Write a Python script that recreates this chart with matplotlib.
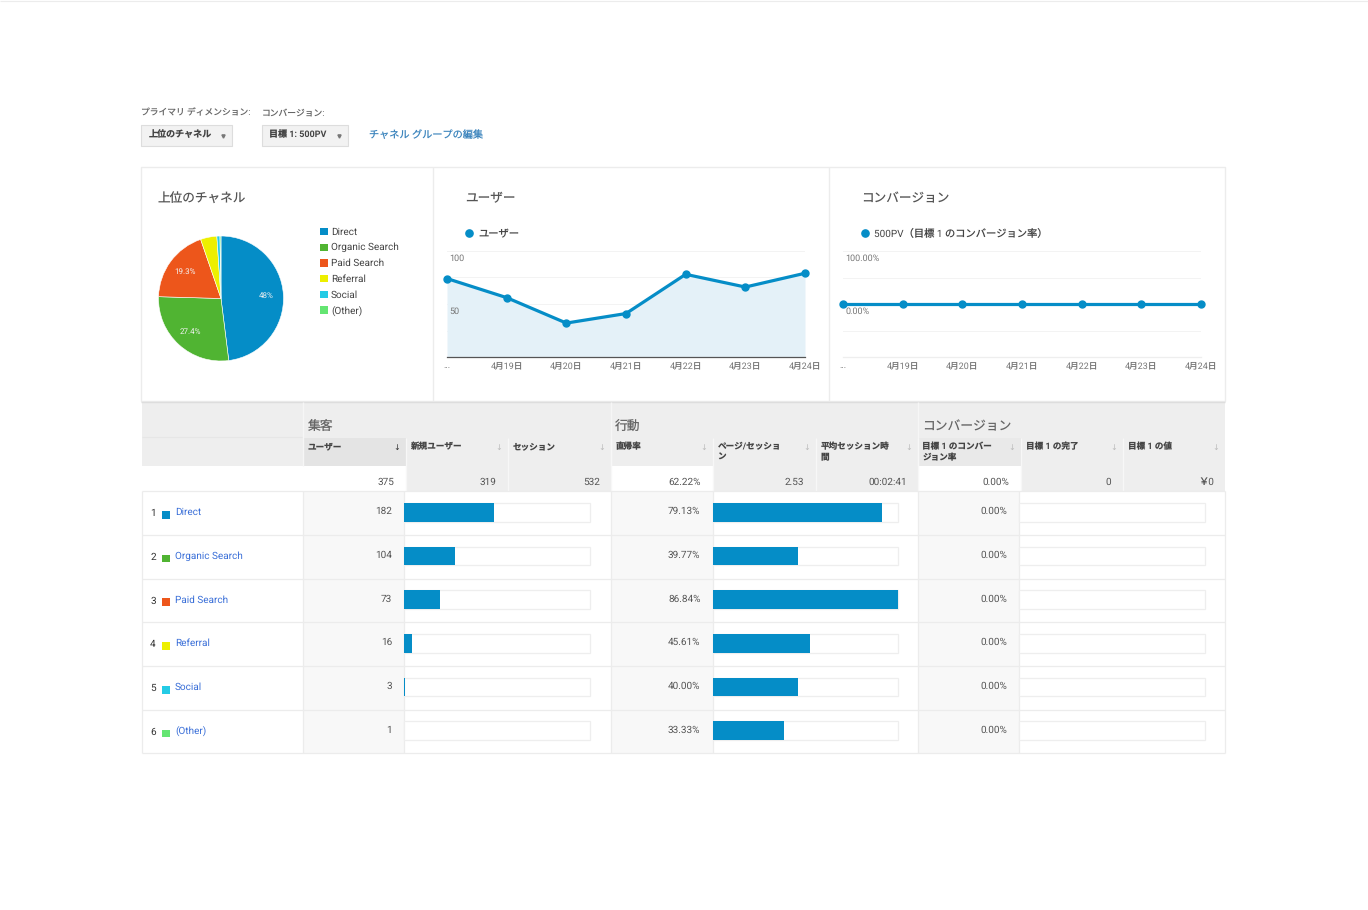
import matplotlib
matplotlib.use("Agg")
import matplotlib.pyplot as plt
from matplotlib.patches import Rectangle

plt.rcParams["font.family"] = ["Roboto", "Noto Sans CJK JP", "DejaVu Sans"]
plt.rcParams["text.hinting"] = "no_hinting"
plt.rcParams["text.hinting_factor"] = 1

W, H = 1368, 910

# data
channels = ["Direct", "Organic Search", "Paid Search", "Referral", "Social", "(Other)"]
channel_colors = ["#058dc7", "#50b432", "#ed561b", "#edef00", "#24cbe5", "#64e572"]
users = [182, 104, 73, 16, 3, 1]
users_total = 375
bounce = [79.13, 39.77, 86.84, 45.61, 40.00, 33.33]
conv_rate = [0.0, 0.0, 0.0, 0.0, 0.0, 0.0]
dates = ["...", "4月19日", "4月20日", "4月21日", "4月22日", "4月23日", "4月24日"]
daily_users = [74, 56, 32, 41, 78, 66, 79]
daily_conv = [0, 0, 0, 0, 0, 0, 0]
columns_a = ["ユーザー", "新規ユーザー", "セッション"]
columns_b = ["直帰率", "ページ/セッショ\nン", "平均セッション時\n間"]
columns_c = ["目標 1 のコンバー\nジョン率", "目標 1 の完了", "目標 1 の値"]
totals = ["375", "319", "532", "62.22%", "2.53", "00:02:41", "0.00%", "0", "￥0"]

BLUE = "#058dc7"
LINE = "#ececec"
GREY = "#eeeeee"
PALE = "#f8f8f8"
TEXT = "#444444"

fig = plt.figure(figsize=(W / 100, H / 100), dpi=100, facecolor="white")


def px_axes(x0, y0, x1, y1, **kw):
    return fig.add_axes([x0 / W, 1 - y1 / H, (x1 - x0) / W, (y1 - y0) / H], **kw)


# page layer in pixel coordinates
bg = px_axes(0, 0, W, H)
bg.set_xlim(0, W)
bg.set_ylim(H, 0)
bg.axis("off")


def box(x0, y0, x1, y1, fc="none", ec="none", lw=0.8):
    bg.add_patch(Rectangle((x0, y0), x1 - x0, y1 - y0, facecolor=fc, edgecolor=ec, linewidth=lw))


def hline(y, x0, x1, color=LINE, lw=0.8):
    bg.plot([x0, x1], [y, y], color=color, lw=lw, solid_capstyle="butt")


def vline(x, y0, y1, color=LINE, lw=0.8):
    bg.plot([x, x], [y0, y1], color=color, lw=lw, solid_capstyle="butt")


hline(0.5, 0, W)

# top controls
bg.text(141, 112.7, "プライマリ ディメンション:", fontsize=6.3, color="#666666", va="center")
bg.text(262, 112.7, "コンバージョン:", fontsize=6.3, color="#666666", va="center")
box(141, 124.5, 231.7, 145.7, fc="#f2f2f2", ec="#dddddd")
box(262, 124.5, 347.5, 145.7, fc="#f2f2f2", ec="#dddddd")
bg.text(149, 134.3, "上位のチャネル", fontsize=6.5, color="#444444", va="center", fontweight="bold")
bg.text(269, 134.3, "目標 1: 500PV", fontsize=6.5, color="#444444", va="center", fontweight="bold")
bg.plot([223, 338.5], [135.5, 135.5], ls="none", marker="v", ms=2.3, color="#777777")
bg.text(369, 135, "チャネル グループの編集", fontsize=7.3, color="#3d85bd", va="center")

# summary panels
box(141, 167, 1225, 401, ec=LINE, lw=1)
vline(433, 167, 401, lw=1)
vline(829, 167, 401, lw=1)
bg.text(158, 199, "上位のチャネル", fontsize=9.1, color="#555555", va="center")
bg.text(465.5, 199, "ユーザー", fontsize=9.1, color="#555555", va="center")
bg.text(861.5, 199, "コンバージョン", fontsize=9.1, color="#555555", va="center")

# pie
pie_ax = px_axes(158.5, 236, 283.5, 361)


def pie_label(pct):
    return f"{pct:.3g}%" if pct > 10 else ""


_, _, pie_texts = pie_ax.pie(users, colors=channel_colors, startangle=90, counterclock=False,
                             autopct=pie_label, pctdistance=0.72,
                             wedgeprops={"edgecolor": "white", "linewidth": 0.4})
for t in pie_texts:
    t.set_color("#f2f2f2")
    t.set_fontsize(5.8)
pie_ax.set_xlim(-1, 1)
pie_ax.set_ylim(-1, 1)

# pie legend
for i, name in enumerate(channels):
    y = 231.5 + i * 15.7
    box(320.3, y - 3.7, 328, y + 3.7, fc=channel_colors[i])
    bg.text(331, y + 0.5, name, fontsize=7.3, color="#444444", va="center")


def line_panel(x0, x1, values, ylim, yticks, ylabels, legend, base_color):
    ax = px_axes(x0, 251, x1, 357)
    xs = list(range(len(values)))
    ax.set_xlim(0, len(values) - 1)
    ax.set_ylim(*ylim)
    ax.patch.set_alpha(0)
    if ylim[0] == 0:
        ax.fill_between(xs, values, ylim[0], color="#e4f1f8", lw=0)
    ax.grid(axis="y", color="#f3f3f3", lw=0.7)
    ax.set_axisbelow(True)
    ax.plot(xs, values, color=BLUE, lw=2.3, marker="o", ms=5, clip_on=False, zorder=5)
    for s in ["top", "left", "right"]:
        ax.spines[s].set_visible(False)
    ax.spines["bottom"].set_color(base_color)
    ax.spines["bottom"].set_linewidth(0.9)
    ax.set_yticks(yticks)
    ax.set_yticklabels([])
    ax.set_xticks(xs)
    ax.set_xticklabels(dates, fontsize=6.2, color="#777777")
    ax.tick_params(length=0)
    ax.tick_params(axis="x", pad=3)
    for val, lab in ylabels:
        ax.annotate(lab, (0, val), xytext=(1.6, -5.2), textcoords="offset points",
                    fontsize=6.2, color="#777777", va="center", zorder=6)
    lx = x0 + 21.5
    bg.plot([lx], [233], marker="o", ms=5.2, color=BLUE, ls="none")
    bg.text(lx + 10, 234.3, legend, fontsize=7.4, color="#444444", va="center")
    return ax


line_panel(447, 805, daily_users, (0, 100), [0, 25, 50, 75, 100],
           [(100, "100"), (50, "50")], "ユーザー", "#555555")
line_panel(843, 1201, daily_conv, (-100, 100), [-100, -50, 0, 50, 100],
           [(100, "100.00%"), (0, "0.00%")], "500PV（目標 1 のコンバージョン率）", "#eeeeee")

# table head
box(141.5, 402, 1225, 466, fc=GREY)
hline(402, 141, 1225, color="#dddddd", lw=1)
hline(437, 142, 303, color="#e6e6e6")
vline(303, 402, 466, color="#f6f6f6", lw=1)
vline(611, 402, 466, color="#f6f6f6", lw=1)
vline(918, 402, 466, color="#f6f6f6", lw=1)
bg.text(308, 426.5, "集客", fontsize=9.2, color="#666666", va="center")
bg.text(615, 426.5, "行動", fontsize=9.2, color="#666666", va="center")
bg.text(922, 426.5, "コンバージョン", fontsize=9.2, color="#666666", va="center")

col_edges = [303, 406, 508, 611, 713, 816, 918, 1021, 1123, 1225]
col_names = columns_a + columns_b + columns_c

box(303, 437.5, 406, 466, fc="#e4e4e4")
box(918, 437.5, 1021, 466, fc="#e9e9e9")

for i, name in enumerate(col_names):
    x0, x1 = col_edges[i], col_edges[i + 1]
    if i > 0:
        vline(x0, 437.5, 491, color="#f7f7f7", lw=0.9)
    bg.text(x0 + 4.5, 442.5, name, fontsize=6.2, color="#444444", va="top", fontweight="bold", linespacing=1.3)
    arrow_color = "#333333" if i == 0 else "#bbbbbb"
    bg.text(x1 - 9, 447.5, "↓", fontsize=5.5, color=arrow_color, va="center", ha="center",
            family=["DejaVu Sans"])
    # totals row: first column of each group stays white
    fc = "white" if i in (0, 3, 6) else "#eeeeee"
    box(x0, 466, x1, 491, fc=fc)
    bg.text(x1 - 12 + (1 if i % 3 == 2 else 0), 482.3, totals[i], fontsize=7.4, color="#555555",
            va="center", ha="right")

# table rows
row_edges = [491, 535, 578.5, 622, 666, 710, 753]
box(303, 491, 404, 753, fc=PALE)
box(611, 491, 713, 753, fc=PALE)
box(918, 491, 1019, 753, fc=PALE)
for y in row_edges:
    hline(y, 141.5, 1225, lw=0.9)
for x in [141.5, 303, 404, 611, 713, 918, 1019, 1225]:
    vline(x, 491, 753, lw=0.9)

for i, name in enumerate(channels):
    mid = (row_edges[i] + row_edges[i + 1]) / 2
    bg.text(153, mid + 0.5, str(i + 1), fontsize=7.3, color="#333333", ha="center", va="center")
    box(162, mid - 2, 169.5, mid + 5.5, fc=channel_colors[i])
    bg.text(175, mid - 0.5, name, fontsize=7.4, color="#3a6fd8", va="center")
    bg.text(392, mid - 1.4, str(users[i]), fontsize=7.4, color="#555555", ha="right", va="center")
    bg.text(700.5, mid - 1.4, f"{bounce[i]:.2f}%", fontsize=7.4, color="#555555", ha="right", va="center")
    bg.text(1007, mid - 1.4, f"{conv_rate[i]:.2f}%", fontsize=7.4, color="#555555", ha="right", va="center")


def bar_column(x0, x1, values, scale):
    ax = px_axes(x0, 491, x1, 753)
    ax.axis("off")
    ax.set_xlim(0, scale)
    ax.set_ylim(len(values), 0)
    ys = [i + 0.49 for i in range(len(values))]
    ax.barh(ys, [scale] * len(values), height=0.43, color="white", edgecolor="#eeeeee",
            linewidth=0.9, clip_on=False)
    ax.barh(ys, values, height=0.43, color=BLUE, linewidth=0, clip_on=False)


bar_column(404, 589.5, users, users_total)
bar_column(713, 898, bounce, max(bounce))
bar_column(1019, 1204.5, conv_rate, 100)

fig.savefig("out.png", dpi=100, facecolor="white")
